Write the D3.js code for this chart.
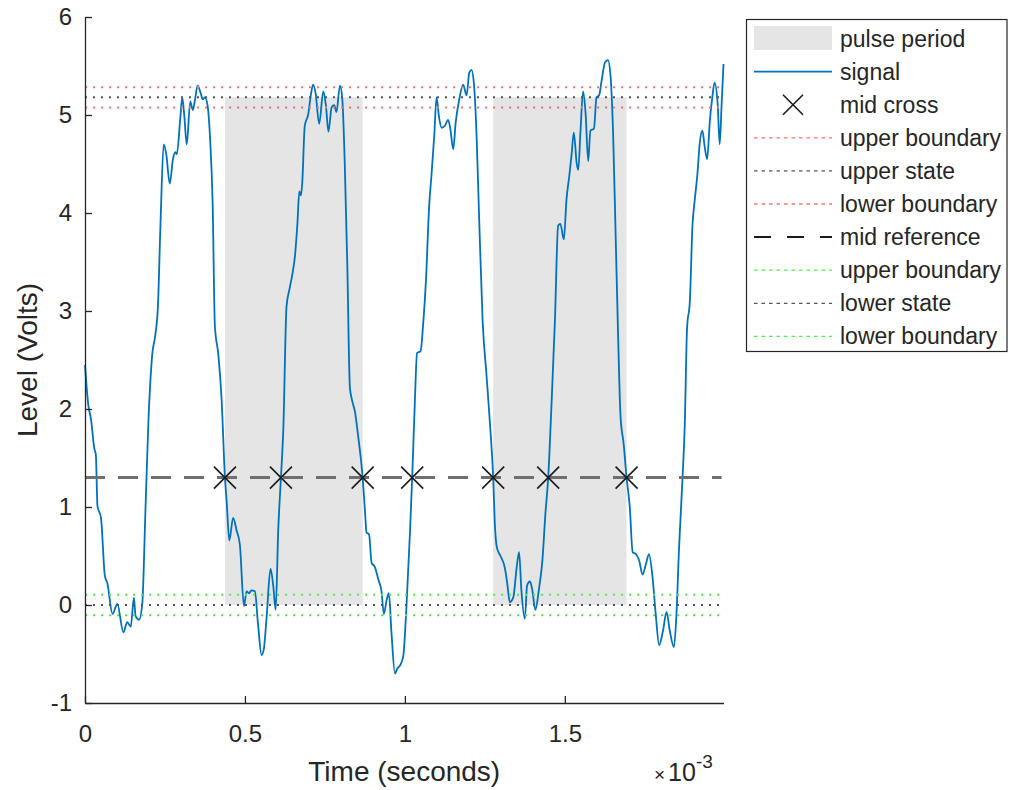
<!DOCTYPE html>
<html>
<head>
<meta charset="utf-8">
<script src="https://cdn.jsdelivr.net/npm/d3@7"></script>
<style>
  html, body { margin: 0; padding: 0; background: #ffffff; }
  svg { display: block; font-family: "Liberation Sans", Arial, Helvetica, sans-serif; }
</style>
</head>
<body>
<svg id="chart" width="1010" height="790"></svg>
<script>
// ---------------- data ----------------
// time in units of 1e-3 seconds, level in volts
const timeMs = [
  0.000, 0.010, 0.019, 0.029, 0.034, 0.039, 0.050, 0.062, 0.070, 0.086,
  0.101, 0.120, 0.132, 0.143, 0.153, 0.158, 0.169, 0.179, 0.189, 0.198,
  0.210, 0.220, 0.228, 0.236, 0.246, 0.254, 0.265, 0.275, 0.282, 0.287,
  0.298, 0.304, 0.310, 0.318, 0.329, 0.337, 0.344, 0.352, 0.362, 0.368,
  0.375, 0.383, 0.391, 0.399, 0.406, 0.417, 0.427, 0.4375, 0.443, 0.451,
  0.463, 0.474, 0.484, 0.497, 0.505, 0.513, 0.520, 0.531, 0.541, 0.552,
  0.559, 0.568, 0.580, 0.589, 0.596, 0.604, 0.6125, 0.620, 0.630, 0.639,
  0.649, 0.656, 0.664, 0.670, 0.675, 0.679, 0.687, 0.698, 0.705, 0.713,
  0.721, 0.732, 0.745, 0.753, 0.761, 0.771, 0.779, 0.786, 0.797, 0.804,
  0.812, 0.820, 0.828, 0.834, 0.844, 0.854, 0.868, 0.875, 0.880, 0.888,
  0.896, 0.906, 0.917, 0.927, 0.934, 0.943, 0.950, 0.958, 0.969, 0.976,
  0.986, 0.995, 1.005, 1.016, 1.0228, 1.031, 1.038, 1.049, 1.057, 1.066,
  1.076, 1.083, 1.092, 1.099, 1.107, 1.115, 1.125, 1.135, 1.142, 1.151,
  1.159, 1.170, 1.182, 1.193, 1.201, 1.208, 1.216, 1.224, 1.232, 1.243,
  1.255, 1.266, 1.276, 1.281, 1.288, 1.299, 1.313, 1.320, 1.328, 1.339,
  1.349, 1.357, 1.364, 1.375, 1.382, 1.391, 1.398, 1.408, 1.419, 1.430,
  1.439, 1.448, 1.458, 1.469, 1.479, 1.486, 1.497, 1.505, 1.514, 1.521,
  1.528, 1.537, 1.542, 1.549, 1.557, 1.565, 1.573, 1.580, 1.591, 1.599,
  1.607, 1.615, 1.626, 1.635, 1.643, 1.651, 1.659, 1.667, 1.674, 1.684,
  1.693, 1.703, 1.712, 1.722, 1.732, 1.743, 1.753, 1.763, 1.774, 1.784,
  1.795, 1.807, 1.818, 1.828, 1.841, 1.849, 1.857, 1.868, 1.875, 1.882,
  1.891, 1.899, 1.906, 1.914, 1.922, 1.930, 1.937, 1.945, 1.953, 1.961,
  1.968, 1.978, 1.984, 1.990, 1.996
];
const levelV = [
  2.45, 2.05, 1.89, 1.60, 1.53, 1.01, 0.89, 0.30, 0.22, -0.09,
  0.01, -0.28, -0.175, -0.22, 0.075, -0.11, -0.15, 0.01, 0.97, 1.85,
  2.55, 2.76, 3.05, 3.89, 4.70, 4.60, 4.30, 4.55, 4.62, 4.60,
  4.97, 5.18, 5.01, 4.70, 5.14, 5.05, 5.16, 5.30, 5.22, 5.16,
  5.18, 5.10, 4.76, 4.10, 2.85, 2.55, 2.10, 1.30, 1.05, 0.66,
  0.89, 0.76, 0.62, -0.01, 0.14, 0.12, 0.15, 0.14, -0.20, -0.51,
  -0.45, -0.11, 0.37, 0.18, -0.05, 0.76, 1.30, 1.80, 3.05, 3.22,
  3.39, 3.55, 3.89, 4.22, 4.18, 4.30, 4.89, 5.01, 5.18, 5.31,
  5.22, 4.91, 5.24, 5.10, 4.83, 5.08, 5.10, 5.03, 5.30, 5.18,
  4.51, 3.47, 2.22, 2.10, 1.97, 1.72, 1.30, 0.97, 0.74, 0.72,
  0.43, 0.39, 0.26, 0.14, -0.09, 0.05, 0.12, -0.28, -0.70, -0.65,
  -0.61, -0.52, -0.01, 0.75, 1.30, 2.06, 2.57, 2.59, 2.86, 3.32,
  4.08, 4.38, 4.80, 5.18, 4.97, 4.87, 4.89, 4.95, 4.86, 4.65,
  4.93, 5.16, 5.31, 5.20, 5.43, 5.46, 5.31, 4.80, 3.96, 2.90,
  2.35, 1.85, 1.30, 0.84, 0.58, 0.50, 0.37, 0.22, 0.03, 0.08,
  0.37, 0.54, 0.16, -0.14, 0.20, 0.24, 0.16, -0.05, 0.16, 0.46,
  0.92, 1.30, 2.02, 2.90, 3.87, 3.89, 3.73, 4.13, 4.38, 4.59,
  4.82, 4.51, 4.44, 4.84, 5.24, 5.01, 4.53, 4.84, 4.86, 5.18,
  5.20, 5.35, 5.54, 5.56, 5.39, 4.80, 3.75, 2.69, 1.93, 1.64,
  1.30, 1.00, 0.54, 0.52, 0.46, 0.31, 0.41, 0.52, 0.29, -0.09,
  -0.41, -0.26, -0.07, -0.26, -0.43, -0.09, 0.58, 1.30, 1.85, 2.82,
  3.11, 3.87, 4.13, 4.38, 4.72, 4.84, 4.68, 4.55, 4.93, 5.18,
  5.33, 5.10, 4.70, 5.10, 5.52
];
const midCrossTimes = [0.4375, 0.6125, 0.868, 1.0228, 1.276, 1.448, 1.693];
const midCrossLevel = 1.30;
const pulseStarts = [0.4375, 1.276];
const pulseEnds = [0.868, 1.693];
const upperState = 5.18;
const lowerState = 0.0;
const refNames = ["upper boundary", "upper state", "lower boundary", "mid reference", "upper boundary", "lower state", "lower boundary"];
const refLevels = [5.284, 5.18, 5.076, 1.30, 0.104, 0.0, -0.104];
const xTicks = [0, 0.5, 1, 1.5];
const xTickLabels = ["0", "0.5", "1", "1.5"];
const yTicks = [-1, 0, 1, 2, 3, 4, 5, 6];
const yTickLabels = ["-1", "0", "1", "2", "3", "4", "5", "6"];
const legendLabels = ["pulse period", "signal", "mid cross", "upper boundary", "upper state", "lower boundary", "mid reference", "upper boundary", "lower state", "lower boundary"];

// ---------------- styles ----------------
const refStyles = [
  { color: "#ff7272", dash: "2,6", width: 2, ldash: "3.5,4", lwidth: 1.3 },
  { color: "#555555", dash: "2,6", width: 2, ldash: "3.5,4", lwidth: 1.3 },
  { color: "#ff7272", dash: "2,6", width: 2, ldash: "3.5,4", lwidth: 1.3 },
  { color: "#6f6f6f", dash: "20,13", width: 3, ldash: "17,16", lwidth: 2, lcolor: "#1a1a1a" },
  { color: "#4cf04c", dash: "2,6", width: 2, ldash: "3.5,4", lwidth: 1.3 },
  { color: "#555555", dash: "2,6", width: 2, ldash: "3.5,4", lwidth: 1.3 },
  { color: "#4cf04c", dash: "2,6", width: 2, ldash: "3.5,4", lwidth: 1.3 }
];
const axisColor = "#262626";
const signalColor = "#0072BD";
const patchColor = "#e5e5e5";

const svg = d3.select("#chart");
svg.append("rect").attr("width", 1010).attr("height", 790).attr("fill", "#fff");

const x = d3.scaleLinear().domain([0, 1.996]).range([85, 723.5]);
const y = d3.scaleLinear().domain([-1, 6]).range([703, 17]);

// pulse period patches
svg.append("g").selectAll("rect")
  .data(pulseStarts.map((s, i) => [s, pulseEnds[i]]))
  .join("rect")
  .attr("x", d => x(d[0]))
  .attr("width", d => x(d[1]) - x(d[0]))
  .attr("y", y(upperState))
  .attr("height", y(lowerState) - y(upperState))
  .attr("fill", patchColor);

// signal
const pts = timeMs.map((t, i) => [t, levelV[i]]);
svg.append("path")
  .datum(pts)
  .attr("fill", "none")
  .attr("stroke", signalColor)
  .attr("stroke-width", 1.8)
  .attr("stroke-linejoin", "round")
  .attr("d", d3.line().x(d => x(d[0])).y(d => y(d[1])).curve(d3.curveMonotoneX));

// reference lines
svg.append("g").selectAll("line")
  .data(refLevels)
  .join("line")
  .attr("x1", x(0))
  .attr("x2", x(1.99))
  .attr("y1", d => y(d))
  .attr("y2", d => y(d))
  .attr("stroke", (d, i) => refStyles[i].color)
  .attr("stroke-width", (d, i) => refStyles[i].width)
  .attr("stroke-dasharray", (d, i) => refStyles[i].dash);

// mid cross markers
const xm = 11;
const crossPath = (cx, cy, r) => `M${cx - r},${cy - r}L${cx + r},${cy + r}M${cx - r},${cy + r}L${cx + r},${cy - r}`;
svg.append("g").selectAll("path")
  .data(midCrossTimes)
  .join("path")
  .attr("d", d => crossPath(x(d), y(midCrossLevel), xm))
  .attr("stroke", "#1a1a1a")
  .attr("stroke-width", 1.6)
  .attr("fill", "none");

// axes
const xAxis = d3.axisBottom(x).tickValues(xTicks).tickFormat((d, i) => xTickLabels[i])
  .tickSizeInner(-7).tickSizeOuter(0).tickPadding(22);
const gx = svg.append("g").attr("transform", "translate(0,703)").call(xAxis);
const yAxis = d3.axisLeft(y).tickValues(yTicks).tickFormat((d, i) => yTickLabels[i])
  .tickSizeInner(-7).tickSizeOuter(0).tickPadding(13);
const gy = svg.append("g").attr("transform", "translate(85,0)").call(yAxis);
[gx, gy].forEach(g => {
  g.select(".domain").attr("stroke", axisColor).attr("stroke-width", 1.3);
  g.selectAll(".tick line").attr("stroke", axisColor).attr("stroke-width", 1.3);
  g.selectAll(".tick text").attr("fill", axisColor)
    .style("font-size", "24px")
    .style("font-family", "'Liberation Sans', Arial, sans-serif");
});
gx.selectAll(".tick text").attr("dy", "0.71em");

// axis labels
svg.append("text")
  .attr("x", (x.range()[0] + x.range()[1]) / 2)
  .attr("y", 781)
  .attr("text-anchor", "middle")
  .attr("fill", axisColor)
  .style("font-size", "28px")
  .text("Time (seconds)");
svg.append("text")
  .attr("transform", `translate(37,${(y.range()[0] + y.range()[1]) / 2}) rotate(-90)`)
  .attr("text-anchor", "middle")
  .attr("fill", axisColor)
  .style("font-size", "28px")
  .text("Level (Volts)");
const expText = svg.append("text")
  .attr("x", 654).attr("y", 781)
  .attr("fill", axisColor)
  .style("font-size", "25px");
expText.append("tspan").style("font-size", "19px").text("×");
expText.append("tspan").attr("dx", 3).text("10");
expText.append("tspan").attr("dy", -13).style("font-size", "19px").text("-3");

// legend
const lg = svg.append("g");
lg.append("rect")
  .attr("x", 746.5).attr("y", 19.5).attr("width", 260.5).attr("height", 332)
  .attr("fill", "#fff").attr("stroke", axisColor).attr("stroke-width", 1.2);
const rowY = i => 38.5 + i * 33.1;
const sx0 = 754, sx1 = 832;
legendLabels.forEach((lab, i) => {
  const cy = rowY(i);
  if (i === 0) {
    lg.append("rect").attr("x", sx0).attr("y", cy - 12.5).attr("width", sx1 - sx0)
      .attr("height", 24).attr("fill", patchColor);
  } else if (i === 1) {
    lg.append("line").attr("x1", sx0).attr("x2", sx1).attr("y1", cy).attr("y2", cy)
      .attr("stroke", signalColor).attr("stroke-width", 1.6);
  } else if (i === 2) {
    lg.append("path").attr("d", crossPath((sx0 + sx1) / 2, cy, 10))
      .attr("stroke", "#1a1a1a").attr("stroke-width", 1.6).attr("fill", "none");
  } else {
    const st = refStyles[i - 3];
    lg.append("line").attr("x1", sx0).attr("x2", sx1).attr("y1", cy).attr("y2", cy)
      .attr("stroke", st.lcolor || st.color).attr("stroke-width", st.lwidth)
      .attr("stroke-dasharray", st.ldash);
  }
  lg.append("text").attr("x", 840).attr("y", cy).attr("dy", "0.35em")
    .attr("fill", axisColor).style("font-size", "23px").text(lab);
});
</script>
</body>
</html>
